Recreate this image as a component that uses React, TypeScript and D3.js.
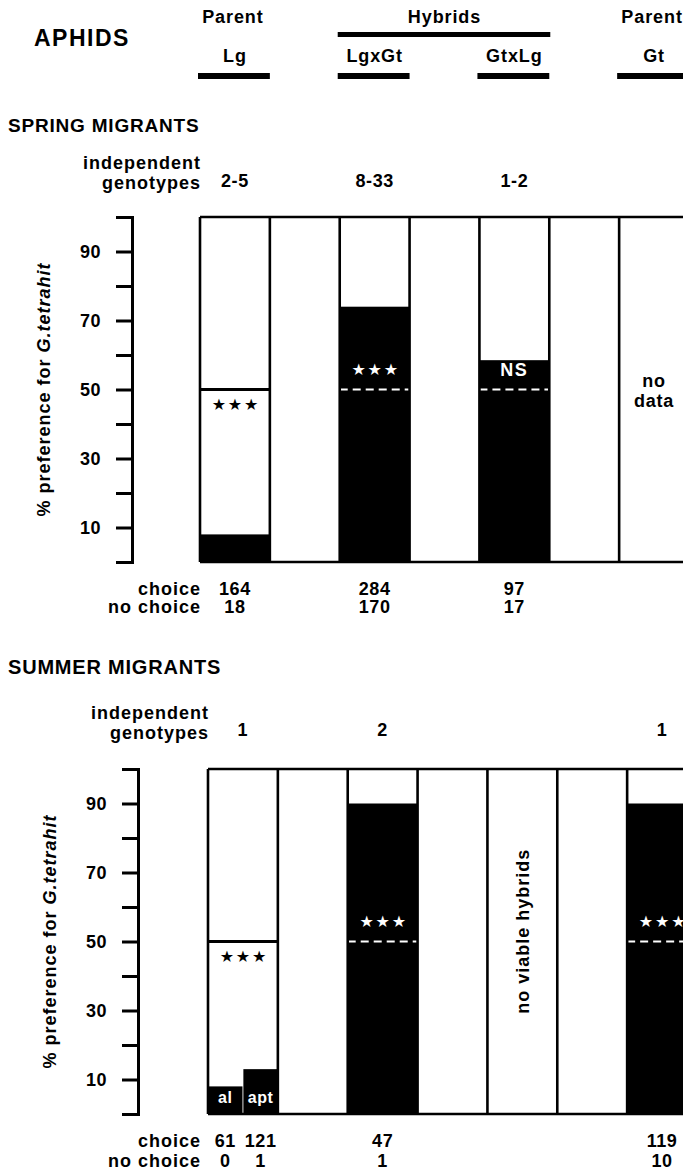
import React, { useEffect, useRef } from "react";
import * as d3 from "d3";

const FONT = "'Liberation Sans', Arial, Helvetica, sans-serif";
const STAR_FONT = "'DejaVu Sans', sans-serif";

// Aphid lines shown left to right; empty spacer columns sit between them
const genotypes = ["Lg", "LgxGt", "GtxLg", "Gt"];
const parentage = ["Parent", "Hybrids", "Hybrids", "Parent"];
const columnSlots = ["Lg", "gap1", "LgxGt", "gap2", "GtxLg", "gap3", "Gt"];

// Y axis: % preference for G. tetrahit
const yTicks = d3.range(0, 101, 10);
const yTickLabels = [10, 30, 50, 70, 90];

// Spring migrants
const springCounts = ["2-5", "8-33", "1-2", ""];
const springBarGenotype = ["Lg", "LgxGt", "GtxLg"];
const springBarMorph = ["", "", ""];
const springPreference = [8, 74, 58.5];
const springChoice = ["164", "284", "97"];
const springNoChoice = ["18", "170", "17"];
const springSignificance = ["***", "***", "NS", ""];
const springNotes = ["", "", "", "no data"];

// Summer migrants (Lg split into alate and apterous morphs)
const summerCounts = ["1", "2", "", "1"];
const summerBarGenotype = ["Lg", "Lg", "LgxGt", "Gt"];
const summerBarMorph = ["al", "apt", "", ""];
const summerPreference = [8, 13, 90, 90];
const summerChoice = ["61", "121", "47", "119"];
const summerNoChoice = ["0", "1", "1", "10"];
const summerSignificance = ["***", "***", "", "***"];
const summerNotes = ["", "", "no viable hybrids", ""];

type PanelProps = {
  title: string;
  titleY: number;
  titleSize: number;
  axisX: number;
  axisTitleX: number;
  xRange: [number, number];
  yRange: [number, number];
  indepY: [number, number];
  countY: number;
  choiceY: [number, number];
  counts: string[];
  barGenotype: string[];
  barMorph: string[];
  preference: number[];
  choice: string[];
  noChoice: string[];
  significance: string[];
  notes: string[];
};

const bold = { fontFamily: FONT, fontWeight: 700, fill: "#000" } as const;

function YAxis({ scale, x }: { scale: d3.ScaleLinear<number, number>; x: number }) {
  const ref = useRef<SVGGElement>(null);
  useEffect(() => {
    const g = d3.select(ref.current!);
    g.call(
      d3
        .axisLeft(scale)
        .tickValues(yTicks)
        .tickSizeInner(16)
        .tickSizeOuter(16)
        .tickPadding(15)
        .tickFormat((d) => (yTickLabels.includes(+d) ? String(d) : ""))
    );
    g.attr("font-family", null).attr("font-size", null);
    g.select(".domain").attr("stroke", "#000").attr("stroke-width", 3).attr("fill", "none");
    g.selectAll(".tick line").attr("stroke", "#000").attr("stroke-width", 3);
    g.selectAll(".tick text")
      .attr("font-family", FONT)
      .attr("font-weight", 700)
      .attr("font-size", 18)
      .attr("letter-spacing", 0.5)
      .attr("fill", "#000");
  }, [scale]);
  return <g ref={ref} transform={`translate(${x},0)`} />;
}

function Panel(p: PanelProps) {
  const x = d3.scaleBand<string>().domain(columnSlots).range(p.xRange).paddingInner(0);
  const y = d3.scaleLinear().domain([0, 100]).range(p.yRange);
  const bw = x.bandwidth();
  const [x0, x1] = p.xRange;
  const y50 = y(50);

  // position of each bar inside its genotype column
  const bars = p.barGenotype.map((g, i) => {
    const morphs = p.barGenotype
      .map((gg, j) => (gg === g ? p.barMorph[j] || `m${j}` : null))
      .filter((m): m is string => m !== null);
    const inner = d3
      .scaleBand<string>()
      .domain(morphs)
      .range([x(g)!, x(g)! + bw])
      .paddingInner(morphs.length > 1 ? 0.025 : 0);
    const key = p.barMorph[i] || `m${i}`;
    return {
      genotype: g,
      morph: p.barMorph[i],
      pref: p.preference[i],
      x: inner(key)!,
      w: inner.bandwidth(),
      choice: p.choice[i],
      noChoice: p.noChoice[i],
    };
  });

  const edges = columnSlots.map((s) => x(s)!).concat([x1]);

  return (
    <g>
      <text {...bold} x={8} y={p.titleY} fontSize={p.titleSize} letterSpacing={0.8}>
        {p.title}
      </text>

      {/* independent genotypes row */}
      <text {...bold} x={x0 + 1} y={p.indepY[0]} fontSize={18} letterSpacing={1} textAnchor="end">
        independent
      </text>
      <text {...bold} x={x0 + 1} y={p.indepY[1]} fontSize={18} letterSpacing={1} textAnchor="end">
        genotypes
      </text>
      {genotypes.map((g, i) => (
        <text key={g} {...bold} x={x(g)! + bw / 2} y={p.countY} fontSize={18} letterSpacing={0.6} textAnchor="middle">
          {p.counts[i]}
        </text>
      ))}

      {/* bars: black share = % choosing G. tetrahit */}
      {bars.map((b, i) => (
        <rect key={i} x={b.x} width={b.w} y={y(b.pref)} height={y(0) - y(b.pref)} fill="#000" />
      ))}

      {/* 50% reference lines and significance */}
      {genotypes.map((g, i) => {
        const sig = p.significance[i];
        if (!sig) return null;
        const prefs = bars.filter((b) => b.genotype === g).map((b) => b.pref);
        const below = d3.max(prefs)! < 50;
        const cx = x(g)! + bw / 2;
        const isStars = sig === "***";
        return (
          <g key={g}>
            <line
              x1={x(g)!}
              x2={x(g)! + bw}
              y1={y50}
              y2={y50}
              stroke={below ? "#000" : "#fff"}
              strokeWidth={below ? 3 : 2.2}
              strokeDasharray={below ? undefined : "8,5"}
            />
            <text
              x={cx + (isStars ? 1 : 0)}
              y={below ? y50 + 15 : y50 - 20}
              dy="0.36em"
              textAnchor="middle"
              fontFamily={isStars ? STAR_FONT : FONT}
              fontWeight={700}
              fontSize={isStars ? 16 : 18}
              letterSpacing={isStars ? 1.8 : 1.5}
              fill={below ? "#000" : "#fff"}
            >
              {isStars ? "★★★" : sig}
            </text>
          </g>
        );
      })}

      {/* morph labels inside split bars */}
      {bars
        .filter((b) => b.morph)
        .map((b) => (
          <text key={b.morph} {...bold} fill="#fff" x={b.x + b.w / 2} y={y(0) - 11} fontSize={16} letterSpacing={0.6} textAnchor="middle">
            {b.morph}
          </text>
        ))}

      {/* frame */}
      <g stroke="#000" strokeWidth={2.6}>
        <line x1={x0} x2={x1} y1={y(100)} y2={y(100)} />
        <line x1={x0} x2={x1} y1={y(0)} y2={y(0)} />
        {edges.map((e, i) => (
          <line key={i} x1={e} x2={e} y1={y(100)} y2={y(0)} />
        ))}
      </g>

      {/* notes for columns without bars */}
      {genotypes.map((g, i) => {
        const note = p.notes[i];
        if (!note) return null;
        const cx = x(g)! + bw / 2;
        if (note === "no data") {
          return (
            <text key={g} {...bold} fontSize={18} letterSpacing={0.8} textAnchor="middle">
              <tspan x={cx} y={y50 - 3}>no</tspan>
              <tspan x={cx} y={y50 + 17}>data</tspan>
            </text>
          );
        }
        return (
          <text
            key={g}
            {...bold}
            fontSize={18}
            letterSpacing={1}
            textAnchor="middle"
            dy="0.36em"
            transform={`translate(${cx},${y(53)}) rotate(-90)`}
          >
            {note}
          </text>
        );
      })}

      <YAxis scale={y} x={p.axisX} />
      <text
        {...bold}
        fontSize={18}
        letterSpacing={1}
        textAnchor="middle"
        dy="0.36em"
        transform={`translate(${p.axisTitleX},${y50}) rotate(-90)`}
      >
        % preference for <tspan fontStyle="italic">G.tetrahit</tspan>
      </text>

      {/* sample sizes */}
      <text {...bold} x={201} y={p.choiceY[0]} fontSize={18} letterSpacing={1} textAnchor="end">choice</text>
      <text {...bold} x={201} y={p.choiceY[1]} fontSize={18} letterSpacing={1} textAnchor="end">no choice</text>
      {bars.map((b, i) => (
        <g key={i}>
          <text {...bold} x={b.x + b.w / 2} y={p.choiceY[0]} fontSize={18} letterSpacing={0.6} textAnchor="middle">
            {b.choice}
          </text>
          <text {...bold} x={b.x + b.w / 2} y={p.choiceY[1]} fontSize={18} letterSpacing={0.6} textAnchor="middle">
            {b.noChoice}
          </text>
        </g>
      ))}
    </g>
  );
}

export default function App() {
  const W = 683;
  const H = 1174;
  const header = d3.scaleBand<string>().domain(columnSlots).range([200, 689]).paddingInner(0);
  const hbw = header.bandwidth();
  const hybrids = genotypes.filter((_, i) => parentage[i] === "Hybrids");
  const hybX0 = header(hybrids[0])!;
  const hybX1 = header(hybrids[hybrids.length - 1])! + hbw;

  return (
    <svg width={W} height={H} style={{ position: "absolute", left: 0, top: 0, background: "#fff" }}>
      <rect width={W} height={H} fill="#fff" />
      <text {...bold} x={34} y={46} fontSize={23} letterSpacing={1.5}>APHIDS</text>

      {/* parent / hybrid header */}
      {genotypes.map((g, i) =>
        parentage[i] === "Parent" ? (
          <text key={`p${g}`} {...bold} x={header(g)! + hbw / 2 - 2} y={23} fontSize={18} letterSpacing={0.9} textAnchor="middle">
            {parentage[i]}
          </text>
        ) : null
      )}
      <text {...bold} x={(hybX0 + hybX1) / 2} y={23} fontSize={18} letterSpacing={0.9} textAnchor="middle">
        Hybrids
      </text>
      <rect x={hybX0 - 2} y={32} width={hybX1 - hybX0 + 3} height={5} fill="#000" />
      {genotypes.map((g) => (
        <g key={g}>
          <text {...bold} x={header(g)! + hbw / 2} y={62} fontSize={18} letterSpacing={0.9} textAnchor="middle">
            {g}
          </text>
          <rect x={header(g)! - 2} y={73} width={hbw + 2} height={6} fill="#000" />
        </g>
      ))}

      <Panel
        title="SPRING MIGRANTS"
        titleY={132}
        titleSize={19}
        axisX={132}
        axisTitleX={44}
        xRange={[200, 689]}
        yRange={[562, 217]}
        indepY={[169, 189]}
        countY={187}
        choiceY={[595, 613]}
        counts={springCounts}
        barGenotype={springBarGenotype}
        barMorph={springBarMorph}
        preference={springPreference}
        choice={springChoice}
        noChoice={springNoChoice}
        significance={springSignificance}
        notes={springNotes}
      />
      <Panel
        title="SUMMER MIGRANTS"
        titleY={674}
        titleSize={20}
        axisX={138}
        axisTitleX={50}
        xRange={[208, 697]}
        yRange={[1114, 769]}
        indepY={[719, 739]}
        countY={736}
        choiceY={[1147, 1167]}
        counts={summerCounts}
        barGenotype={summerBarGenotype}
        barMorph={summerBarMorph}
        preference={summerPreference}
        choice={summerChoice}
        noChoice={summerNoChoice}
        significance={summerSignificance}
        notes={summerNotes}
      />
    </svg>
  );
}
